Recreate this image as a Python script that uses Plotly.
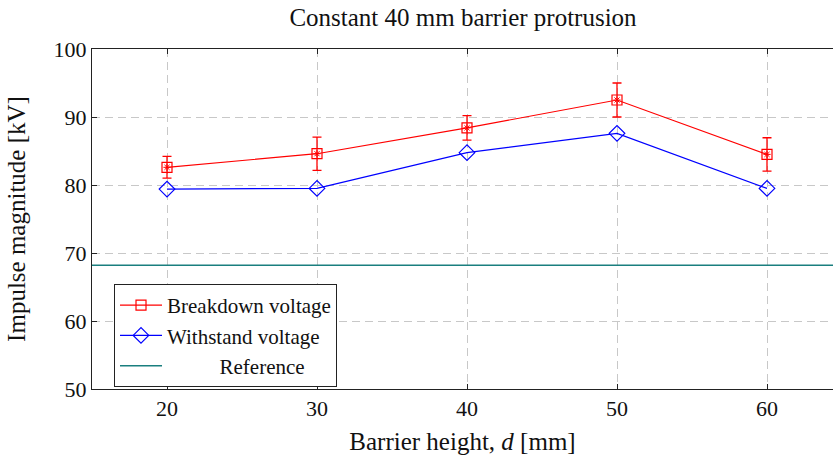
import plotly.graph_objects as go

barrier_height = [20, 30, 40, 50, 60]
breakdown_voltage = [82.6, 84.6, 88.4, 92.5, 84.5]
breakdown_error = [1.6, 2.45, 1.8, 2.5, 2.45]
withstand_voltage = [79.4, 79.5, 84.75, 87.6, 79.5]
reference_voltage = 68.2

x_ticks = [20, 30, 40, 50, 60]
y_ticks = [50, 60, 70, 80, 90, 100]

FONT = "Liberation Serif, Times New Roman, serif"
RED = "#ff0000"
BLUE = "#0000ff"
TEAL = "#1a7f7f"
GRID_DASH = "8px,5px"

W, H = 833, 457

fig = go.Figure()

fig.add_trace(go.Scatter(
    x=barrier_height, y=breakdown_voltage, name="Breakdown voltage",
    mode="lines+markers",
    line=dict(color=RED, width=1.2),
    marker=dict(symbol="square-open", size=10, color=RED, line=dict(width=1.2)),
    error_y=dict(type="data", array=breakdown_error, color=RED, thickness=1.3, width=4.5),
    legendrank=1,
))
fig.add_trace(go.Scatter(
    x=barrier_height, y=breakdown_voltage, showlegend=False, hoverinfo="skip",
    mode="markers",
    marker=dict(symbol="asterisk-open", size=6, color=RED, line=dict(width=1, color=RED)),
))
fig.add_trace(go.Scatter(
    x=barrier_height, y=withstand_voltage, name="Withstand voltage",
    mode="lines+markers",
    line=dict(color=BLUE, width=1.2),
    marker=dict(symbol="diamond-open", size=12, color=BLUE, line=dict(width=1.2)),
    legendrank=2,
))
fig.add_hline(y=reference_voltage, line=dict(color=TEAL, width=1.5),
              showlegend=True, name="\u00a0" * 10 + "Reference", legendrank=3)

fig.update_layout(
    width=W, height=H,
    margin=dict(l=92, r=0, t=49, b=68, autoexpand=False),
    paper_bgcolor="white", plot_bgcolor="white",
    font=dict(family=FONT, size=22, color="#111"),
    title=dict(text="Constant 40 mm barrier protrusion", x=463 / W, xanchor="center",
               y=1 - 17 / H, yanchor="middle", font=dict(size=25)),
    showlegend=True,
    legend=dict(x=0.0297, y=0.309, xanchor="left", yanchor="top",
                bordercolor="#222", borderwidth=1, bgcolor="white",
                font=dict(size=21), itemwidth=42, tracegroupgap=0,
                entrywidth=223, entrywidthmode="pixels"),
)

fig.update_xaxes(
    range=[15, 64.4], tickvals=x_ticks, ticktext=[str(v) for v in x_ticks],
    showline=True, linecolor="#222", linewidth=1, mirror="ticks",
    ticks="inside", ticklen=5, tickcolor="#222", tickfont=dict(size=22),
    showgrid=True, gridcolor="#c8c8c8", griddash=GRID_DASH, gridwidth=1,
    zeroline=False,
    title=dict(text="Barrier height, <i>d</i> [mm]", standoff=12, font=dict(size=25)),
)
fig.update_yaxes(
    range=[50, 100], tickvals=y_ticks, ticktext=[str(v) for v in y_ticks],
    showline=True, linecolor="#222", linewidth=1, mirror=False,
    ticks="inside", ticklen=5, tickcolor="#222", tickfont=dict(size=22),
    showgrid=True, gridcolor="#c8c8c8", griddash=GRID_DASH, gridwidth=1,
    zeroline=False,
    title=dict(text="Impulse magnitude [kV]", standoff=20, font=dict(size=25)),
)

# remove the browser's default 8px body margin so the figure fills the window exactly
fig.write_html("out.html", config={"displayModeBar": False},
               post_script="document.body.style.margin='0';")
